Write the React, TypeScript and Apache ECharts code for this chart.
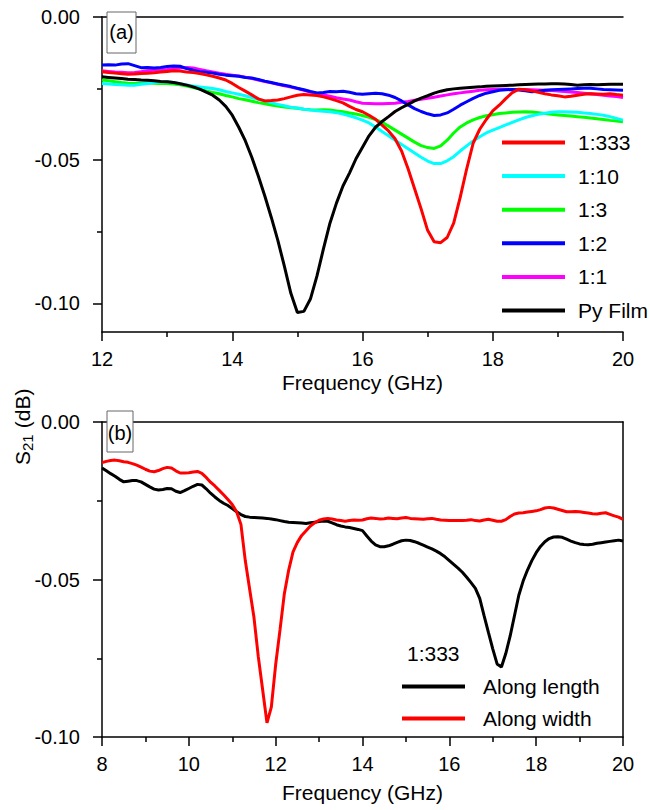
import React, { useEffect, useRef } from "react";
import * as echarts from "echarts";

const FONT = "'Liberation Sans', Arial, Helvetica, sans-serif";

// ---------- Panel (a): 12–20 GHz, step 0.1 ----------
const freqA: number[] = Array.from({ length: 81 }, (_, i) => +(12 + i * 0.1).toFixed(1));

const pyFilm = [
  -0.0209, -0.0211, -0.0213, -0.0215, -0.0217, -0.0218, -0.0220, -0.0221, -0.0223, -0.0225,
  -0.0226, -0.0229, -0.0233, -0.0238, -0.0244, -0.0252, -0.0262, -0.0273, -0.0290, -0.0312,
  -0.0343, -0.0385, -0.0432, -0.0490, -0.0555, -0.0625, -0.0700, -0.0780, -0.0870, -0.0965,
  -0.1032, -0.1028, -0.0985, -0.0905, -0.0810, -0.0720, -0.0650, -0.0590, -0.0545, -0.0495,
  -0.0455, -0.0415, -0.0385, -0.0365, -0.0348, -0.0330, -0.0317, -0.0305, -0.0293, -0.0283,
  -0.0275, -0.0266, -0.0259, -0.0254, -0.0251, -0.0249, -0.0247, -0.0245, -0.0244, -0.0242,
  -0.0241, -0.0240, -0.0239, -0.0238, -0.0237, -0.0236, -0.0235, -0.0234, -0.0234, -0.0233,
  -0.0233, -0.0234, -0.0236, -0.0238, -0.0237, -0.0236, -0.0237, -0.0236, -0.0235, -0.0235,
  -0.0235,
];

const r333 = [
  -0.0191, -0.0194, -0.0196, -0.0198, -0.0200, -0.0199, -0.0197, -0.0196, -0.0195, -0.0192,
  -0.0190, -0.0188, -0.0189, -0.0192, -0.0194, -0.0197, -0.0202, -0.0207, -0.0213, -0.0220,
  -0.0232, -0.0246, -0.0259, -0.0272, -0.0286, -0.0293, -0.0292, -0.0290, -0.0285, -0.0279,
  -0.0273, -0.0271, -0.0272, -0.0274, -0.0279, -0.0285, -0.0292, -0.0300, -0.0312, -0.0323,
  -0.0331, -0.0343, -0.0357, -0.0378, -0.0398, -0.0425, -0.0468, -0.0530, -0.0600, -0.0670,
  -0.0745, -0.0785, -0.0788, -0.0770, -0.0720, -0.0630, -0.0530, -0.0440, -0.0392, -0.0358,
  -0.0328, -0.0308, -0.0285, -0.0264, -0.0252, -0.0254, -0.0258, -0.0263, -0.0268, -0.0272,
  -0.0275, -0.0279, -0.0277, -0.0273, -0.0270, -0.0268, -0.0269, -0.0270, -0.0268, -0.0271,
  -0.0273,
];

const c10 = [
  -0.0232, -0.0234, -0.0236, -0.0237, -0.0238, -0.0238, -0.0235, -0.0232, -0.0229, -0.0227,
  -0.0226, -0.0229, -0.0233, -0.0237, -0.0241, -0.0244, -0.0247, -0.0250, -0.0254, -0.0260,
  -0.0265, -0.0270, -0.0275, -0.0281, -0.0287, -0.0293, -0.0299, -0.0305, -0.0310, -0.0315,
  -0.0318, -0.0322, -0.0325, -0.0327, -0.0329, -0.0331, -0.0334, -0.0339, -0.0345, -0.0352,
  -0.0360, -0.0370, -0.0384, -0.0400, -0.0415, -0.0430, -0.0445, -0.0460, -0.0475, -0.0490,
  -0.0503, -0.0512, -0.0512, -0.0502, -0.0488, -0.0468, -0.0450, -0.0433, -0.0418, -0.0405,
  -0.0395, -0.0386, -0.0377, -0.0368, -0.0359, -0.0351, -0.0345, -0.0340, -0.0336, -0.0333,
  -0.0331, -0.0331, -0.0332, -0.0333, -0.0335, -0.0337, -0.0340, -0.0343, -0.0348, -0.0354,
  -0.0360,
];

const g3 = [
  -0.0220, -0.0223, -0.0226, -0.0229, -0.0231, -0.0232, -0.0231, -0.0230, -0.0231, -0.0232,
  -0.0232, -0.0234, -0.0237, -0.0241, -0.0246, -0.0252, -0.0258, -0.0264, -0.0268, -0.0274,
  -0.0279, -0.0285, -0.0289, -0.0294, -0.0299, -0.0303, -0.0307, -0.0311, -0.0314, -0.0317,
  -0.0319, -0.0322, -0.0324, -0.0325, -0.0324, -0.0325, -0.0328, -0.0331, -0.0335, -0.0339,
  -0.0344, -0.0350, -0.0358, -0.0368, -0.0381, -0.0395, -0.0409, -0.0423, -0.0437, -0.0449,
  -0.0456, -0.0459, -0.0450, -0.0430, -0.0405, -0.0384, -0.0370, -0.0359, -0.0351, -0.0345,
  -0.0341, -0.0337, -0.0335, -0.0333, -0.0332, -0.0331, -0.0332, -0.0334, -0.0337, -0.0340,
  -0.0342, -0.0344, -0.0346, -0.0348, -0.0350, -0.0353, -0.0355, -0.0358, -0.0361, -0.0363,
  -0.0366,
];

const b2 = [
  -0.0168, -0.0167, -0.0168, -0.0164, -0.0163, -0.0170, -0.0177, -0.0176, -0.0178, -0.0176,
  -0.0173, -0.0171, -0.0172, -0.0180, -0.0186, -0.0191, -0.0193, -0.0196, -0.0200, -0.0203,
  -0.0205, -0.0207, -0.0211, -0.0213, -0.0218, -0.0224, -0.0229, -0.0234, -0.0238, -0.0243,
  -0.0249, -0.0254, -0.0260, -0.0265, -0.0264, -0.0260, -0.0261, -0.0259, -0.0263, -0.0268,
  -0.0270, -0.0268, -0.0266, -0.0268, -0.0273, -0.0281, -0.0293, -0.0307, -0.0320, -0.0330,
  -0.0338, -0.0344, -0.0342, -0.0335, -0.0322, -0.0308, -0.0296, -0.0284, -0.0274, -0.0266,
  -0.0261, -0.0256, -0.0254, -0.0253, -0.0255, -0.0258, -0.0261, -0.0259, -0.0256, -0.0254,
  -0.0253, -0.0252, -0.0251, -0.0250, -0.0249, -0.0249, -0.0251, -0.0253, -0.0254, -0.0255,
  -0.0256,
];

const m1 = [
  -0.0188, -0.0190, -0.0192, -0.0193, -0.0195, -0.0194, -0.0191, -0.0188, -0.0186, -0.0184,
  -0.0183, -0.0180, -0.0178, -0.0176, -0.0178, -0.0183, -0.0188, -0.0192, -0.0196, -0.0200,
  -0.0203, -0.0206, -0.0210, -0.0215, -0.0220, -0.0225, -0.0230, -0.0235, -0.0240, -0.0245,
  -0.0250, -0.0256, -0.0262, -0.0267, -0.0272, -0.0277, -0.0282, -0.0286, -0.0290, -0.0296,
  -0.0301, -0.0302, -0.0303, -0.0303, -0.0302, -0.0301, -0.0298, -0.0295, -0.0291, -0.0287,
  -0.0284, -0.0280, -0.0276, -0.0272, -0.0268, -0.0265, -0.0262, -0.0259, -0.0256, -0.0254,
  -0.0253, -0.0252, -0.0252, -0.0253, -0.0253, -0.0253, -0.0254, -0.0255, -0.0256, -0.0257,
  -0.0258, -0.0260, -0.0262, -0.0264, -0.0266, -0.0268, -0.0271, -0.0273, -0.0276, -0.0278,
  -0.0281,
];

// ---------- Panel (b): 8–20 GHz, step 0.1 ----------
const freqB: number[] = Array.from({ length: 121 }, (_, i) => +(8 + i * 0.1).toFixed(1));

const alongLength = [
  -0.0146, -0.0155, -0.0164, -0.0172, -0.0182, -0.0190, -0.0188, -0.0186, -0.0186, -0.0190,
  -0.0198, -0.0206, -0.0213, -0.0216, -0.0214, -0.0211, -0.0212, -0.0220, -0.0224, -0.0218,
  -0.0211, -0.0204, -0.0198, -0.0200, -0.0212, -0.0226, -0.0238, -0.0249, -0.0258, -0.0265,
  -0.0275, -0.0285, -0.0294, -0.0300, -0.0302, -0.0303, -0.0304, -0.0305, -0.0306, -0.0308,
  -0.0310, -0.0313, -0.0316, -0.0318, -0.0319, -0.0320, -0.0321, -0.0322, -0.0320, -0.0318,
  -0.0316, -0.0314, -0.0315, -0.0320, -0.0326, -0.0330, -0.0333, -0.0335, -0.0338, -0.0341,
  -0.0345, -0.0362, -0.0378, -0.0390, -0.0396, -0.0396, -0.0393, -0.0388, -0.0382, -0.0377,
  -0.0375, -0.0376, -0.0380, -0.0385, -0.0391, -0.0397, -0.0403, -0.0410, -0.0418, -0.0428,
  -0.0440, -0.0452, -0.0464, -0.0477, -0.0493, -0.0510, -0.0528, -0.0560, -0.0615, -0.0668,
  -0.0720, -0.0768, -0.0778, -0.0735, -0.0680, -0.0615, -0.0550, -0.0505, -0.0470, -0.0440,
  -0.0415, -0.0395, -0.0380, -0.0370, -0.0365, -0.0364, -0.0366, -0.0372, -0.0378, -0.0383,
  -0.0387, -0.0389, -0.0390, -0.0388, -0.0385, -0.0383, -0.0381, -0.0379, -0.0377, -0.0375,
  -0.0378,
];

const alongWidth = [
  -0.0129, -0.0125, -0.0122, -0.0121, -0.0123, -0.0126, -0.0128, -0.0132, -0.0137, -0.0143,
  -0.0150, -0.0156, -0.0158, -0.0154, -0.0148, -0.0144, -0.0146, -0.0155, -0.0162, -0.0162,
  -0.0161, -0.0159, -0.0157, -0.0163, -0.0176, -0.0191, -0.0203, -0.0217, -0.0231, -0.0246,
  -0.0262, -0.0285, -0.0325, -0.0440, -0.0530, -0.0620, -0.0745, -0.0850, -0.0955, -0.0905,
  -0.0770, -0.0660, -0.0545, -0.0470, -0.0412, -0.0382, -0.0360, -0.0345, -0.0330, -0.0320,
  -0.0312, -0.0308, -0.0306, -0.0308, -0.0311, -0.0313, -0.0315, -0.0313, -0.0311, -0.0312,
  -0.0311, -0.0307, -0.0305, -0.0306, -0.0308, -0.0307, -0.0305, -0.0306, -0.0307, -0.0305,
  -0.0303, -0.0306, -0.0307, -0.0308, -0.0309, -0.0307, -0.0306, -0.0309, -0.0311, -0.0312,
  -0.0313, -0.0313, -0.0313, -0.0313, -0.0312, -0.0310, -0.0313, -0.0314, -0.0311, -0.0309,
  -0.0312, -0.0315, -0.0315, -0.0310, -0.0300, -0.0292, -0.0289, -0.0288, -0.0286, -0.0284,
  -0.0282, -0.0278, -0.0273, -0.0271, -0.0273, -0.0277, -0.0281, -0.0285, -0.0285, -0.0284,
  -0.0285, -0.0287, -0.0289, -0.0291, -0.0292, -0.0290, -0.0288, -0.0293, -0.0298, -0.0302,
  -0.0309,
];

const yTicksA = [0, -0.05, -0.1];
const yMinorA = [-0.025, -0.075];
const legendA = ["1:333", "1:10", "1:3", "1:2", "1:1", "Py Film"];
const legendB = ["Along length", "Along width"];

const pair = (xs: number[], ys: number[]) => xs.map((x, i) => [x, ys[i]]);

const AXIS_LINE = { show: true, onZero: false, lineStyle: { color: "#000", width: 1.5 } };
const TICK_LS = { color: "#000", width: 1.5 };
const labelStyle = { fontSize: 20, color: "#000", fontFamily: FONT };

export default function App() {
  const ref = useRef<HTMLDivElement>(null);

  useEffect(() => {
    if (!ref.current) return;
    const chart = echarts.init(ref.current, null, { renderer: "svg" });

    const line = (name: string, xs: number[], ys: number[], color: string, xi: number, yi: number, z: number) => ({
      name,
      type: "line",
      xAxisIndex: xi,
      yAxisIndex: yi,
      data: pair(xs, ys),
      showSymbol: false,
      symbol: "none",
      z,
      lineStyle: { color, width: 3 },
      itemStyle: { color },
    });

    const xMain = (gridIndex: number, min: number, nameGap: number) => ({
      type: "value",
      gridIndex,
      position: "bottom",
      min,
      max: 20,
      interval: 2,
      axisLine: AXIS_LINE,
      axisTick: { show: true, inside: false, length: 9, lineStyle: TICK_LS },
      minorTick: { show: true, splitNumber: 2, length: 5, lineStyle: TICK_LS },
      axisLabel: { ...labelStyle, margin: 17 },
      splitLine: { show: false },
      minorSplitLine: { show: false },
      name: "Frequency (GHz)",
      nameLocation: "middle",
      nameGap,
      nameTextStyle: { fontSize: 21, color: "#000", fontFamily: FONT },
    });

    const xTop = (gridIndex: number, min: number) => ({
      type: "value",
      gridIndex,
      position: "top",
      min,
      max: 20,
      axisLine: AXIS_LINE,
      axisTick: { show: false },
      axisLabel: { show: false },
      splitLine: { show: false },
    });

    const option: any = {
      animation: false,
      backgroundColor: "#fff",
      grid: [
        { left: 102, top: 17, width: 521, height: 315, containLabel: false, outerBoundsMode: "none" },
        { left: 102, top: 422, width: 521, height: 315, containLabel: false, outerBoundsMode: "none" },
      ],
      xAxis: [xMain(0, 12, 40), xTop(0, 12), xMain(1, 8, 45), xTop(1, 8)],
      yAxis: [
        {
          type: "value",
          gridIndex: 0,
          position: "left",
          min: -0.11,
          max: 0,
          axisLine: AXIS_LINE,
          axisTick: { show: true, inside: false, length: 9, lineStyle: TICK_LS, customValues: yTicksA },
          axisLabel: { ...labelStyle, margin: 22, customValues: yTicksA, formatter: (v: number) => v.toFixed(2) },
          splitLine: { show: false },
        },
        {
          type: "value",
          gridIndex: 0,
          position: "left",
          min: -0.11,
          max: 0,
          axisLine: { show: false },
          axisTick: { show: true, inside: false, length: 5, lineStyle: TICK_LS, customValues: yMinorA },
          axisLabel: { show: false },
          splitLine: { show: false },
        },
        {
          type: "value",
          gridIndex: 1,
          position: "left",
          min: -0.1,
          max: 0,
          interval: 0.05,
          axisLine: AXIS_LINE,
          axisTick: { show: true, inside: false, length: 9, lineStyle: TICK_LS },
          minorTick: { show: true, splitNumber: 2, length: 5, lineStyle: TICK_LS },
          axisLabel: { ...labelStyle, margin: 22, formatter: (v: number) => v.toFixed(2) },
          splitLine: { show: false },
          minorSplitLine: { show: false },
        },
        {
          type: "value",
          gridIndex: 1,
          position: "right",
          min: -0.1,
          max: 0,
          axisLine: AXIS_LINE,
          axisTick: { show: false },
          axisLabel: { show: false },
          splitLine: { show: false },
        },
      ],
      legend: [
        {
          data: legendA,
          orient: "vertical",
          left: 502,
          top: 132,
          padding: 0,
          itemWidth: 63,
          itemHeight: 4,
          itemGap: 12.6,
          icon: "rect",
          selectedMode: false,
          textStyle: { fontSize: 21, lineHeight: 21, color: "#000", fontFamily: FONT, padding: [0, 0, 0, 8] },
        },
        {
          data: legendB,
          orient: "vertical",
          left: 402,
          top: 676,
          padding: 0,
          itemWidth: 63,
          itemHeight: 4,
          itemGap: 11,
          icon: "rect",
          selectedMode: false,
          textStyle: { fontSize: 21, lineHeight: 21, color: "#000", fontFamily: FONT, padding: [0, 0, 0, 13] },
        },
      ],
      graphic: [
        {
          type: "rect",
          z: 100,
          shape: { x: 107, y: 12, width: 29, height: 41 },
          style: { fill: "#fff", stroke: "#666", lineWidth: 1 },
        },
        {
          type: "text",
          z: 101,
          x: 121.5,
          y: 32,
          style: { text: "(a)", fontSize: 20, fontFamily: FONT, fill: "#000", align: "center", verticalAlign: "middle" },
        },
        {
          type: "rect",
          z: 100,
          shape: { x: 107, y: 411, width: 26, height: 41 },
          style: { fill: "#fff", stroke: "#666", lineWidth: 1 },
        },
        {
          type: "text",
          z: 101,
          x: 120,
          y: 433,
          style: { text: "(b)", fontSize: 20, fontFamily: FONT, fill: "#000", align: "center", verticalAlign: "middle" },
        },
        {
          type: "text",
          z: 101,
          x: 407,
          y: 653,
          style: { text: "1:333", fontSize: 21, fontFamily: FONT, fill: "#000", align: "left", verticalAlign: "middle" },
        },
        {
          type: "group",
          x: 22,
          y: 427,
          rotation: Math.PI / 2,
          children: [
            {
              type: "text",
              x: -38,
              y: 0,
              style: { text: "S", fontSize: 21, fontFamily: FONT, fill: "#000", align: "left", verticalAlign: "middle" },
            },
            {
              type: "text",
              x: -24,
              y: 5,
              style: { text: "21", fontSize: 15, fontFamily: FONT, fill: "#000", align: "left", verticalAlign: "middle" },
            },
            {
              type: "text",
              x: -7,
              y: 0,
              style: { text: " (dB)", fontSize: 21, fontFamily: FONT, fill: "#000", align: "left", verticalAlign: "middle" },
            },
          ],
        },
      ],
      series: [
        line("1:1", freqA, m1, "#ff00ff", 0, 0, 2),
        line("1:2", freqA, b2, "#0000ff", 0, 0, 3),
        line("1:3", freqA, g3, "#00ff00", 0, 0, 4),
        line("1:10", freqA, c10, "#00ffff", 0, 0, 5),
        line("1:333", freqA, r333, "#ff0000", 0, 0, 6),
        line("Py Film", freqA, pyFilm, "#000000", 0, 0, 7),
        line("Along length", freqB, alongLength, "#000000", 2, 2, 3),
        line("Along width", freqB, alongWidth, "#ff0000", 2, 2, 4),
      ],
    };

    chart.setOption(option);
    return () => chart.dispose();
  }, []);

  return (
    <div
      ref={ref}
      style={{ position: "absolute", left: 0, top: 0, width: 650, height: 810, background: "#fff" }}
    />
  );
}
